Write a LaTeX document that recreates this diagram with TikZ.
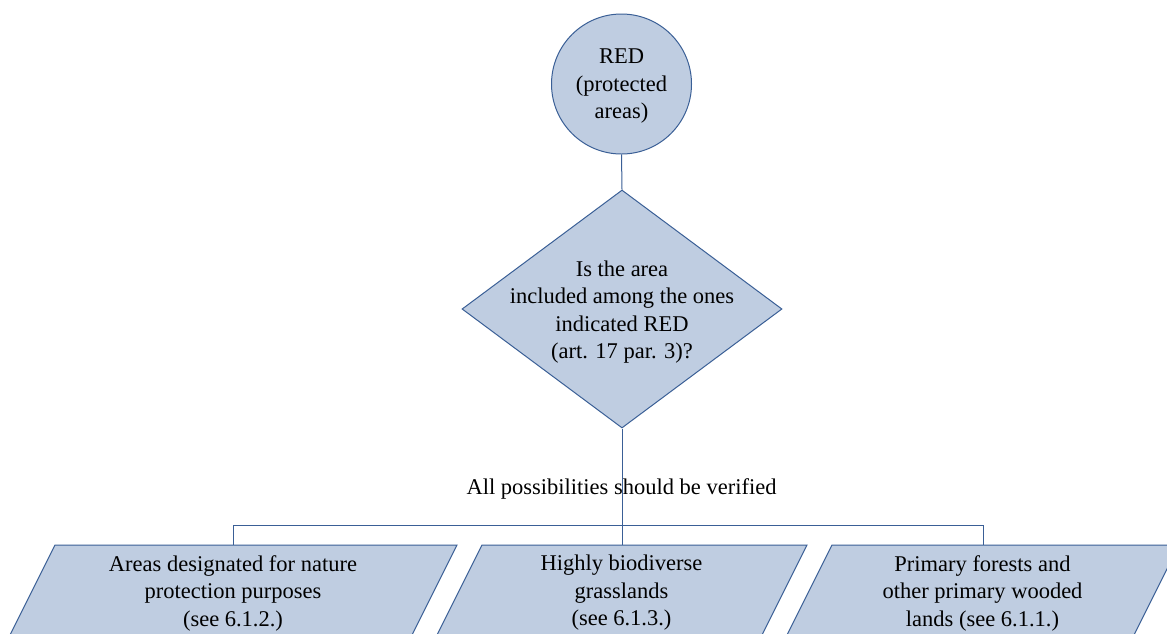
\documentclass[tikz,border=0pt]{standalone}
\usepackage{fontspec}
\setmainfont{Liberation Serif}
\usetikzlibrary{shapes.geometric}
\definecolor{boxfill}{RGB}{191,205,225}
\definecolor{boxline}{RGB}{58,95,150}
\begin{document}
\begin{tikzpicture}[x=1pt,y=-1pt,
  shapestyle/.style={draw=boxline, fill=boxfill, line width=1pt},
  conn/.style={draw=boxline, line width=1pt},
  txt/.style={align=center, font=\fontsize{22.5}{27.5}\selectfont, inner sep=0pt}]
\clip (0,0) rectangle (1167,633);
\fill[white] (0,0) rectangle (1167,633);
% circle
\node[shapestyle, circle, minimum size=140pt, inner sep=0pt] (red) at (621.5,84) {};
\node[txt] (redtext) at (621.5,86.5) {RED\\(protected\\areas)};
% diamond
\node[shapestyle, diamond, minimum width=320pt, minimum height=238pt, inner sep=0pt] (dia) at (622,309) {};
\node[txt] (diatext) at (622,312) {Is the area\\included among the ones\\indicated RED\\(art. 17 par. 3)?};
% parallelograms
\path[shapestyle] (55,545) -- (457,545) -- (409,641) -- (7,641) -- cycle;
\path[shapestyle] (482,545) -- (807,545) -- (759,641) -- (434,641) -- cycle;
\path[shapestyle] (832,545) -- (1179,545) -- (1131,641) -- (784,641) -- cycle;
\node[txt] (p1) at (233,593) {Areas designated for nature\\protection purposes\\(see 6.1.2.)};
\node[txt] (p2) at (621.5,593) {Highly biodiverse\\grasslands\\(see 6.1.3.)};
\node[txt] (p3) at (982.5,593) {Primary forests and\\other primary wooded\\lands (see 6.1.1.)};
% label
\node[txt] (lab) at (621.5,488.5) {All possibilities should be verified};
% connector coordinates
\coordinate (j) at (622,525);
\coordinate (h1) at (233,525);
\coordinate (h3) at (983,525);
\coordinate (t1) at (233,545);
\coordinate (t2) at (622,545);
\coordinate (t3) at (983,545);
% connectors
\draw[conn] (red.south) -- (dia.north);
\draw[conn] (dia.south) -- (j);
\draw[conn] (h1) -- (h3);
\draw[conn] (h1) -- (t1);
\draw[conn] (j) -- (t2);
\draw[conn] (h3) -- (t3);
\end{tikzpicture}
\end{document}
